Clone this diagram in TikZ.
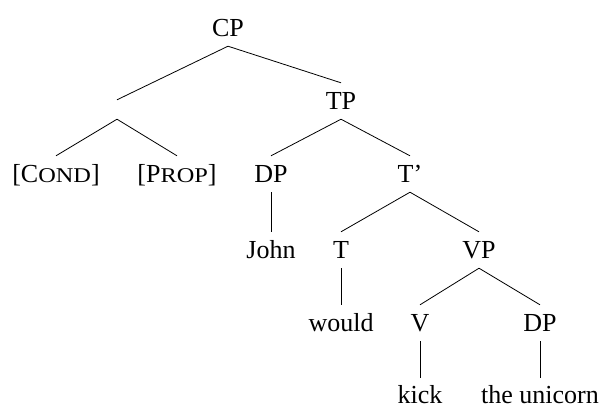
\documentclass[tikz,border=0pt]{standalone}
\usepackage{fontspec}
\setmainfont{Liberation Serif}
\newcommand\fsc[1]{\scalebox{1.16}[1]{\fontsize{21}{21}\selectfont #1}}
\begin{document}
\begin{tikzpicture}[x=1pt,y=-1pt,
  lab/.style={anchor=base, inner sep=0pt, text height=26pt, text depth=10pt,
              font=\fontsize{26}{30}\selectfont},
  leaf/.style={lab, text height=25pt, text depth=1pt},
  edge/.style={line width=0.8pt}]
\useasboundingbox (0,0) rectangle (601,408);
% level 1
\node[lab] (cp) at (228,36) {CP};
% level 2
\node[inner sep=0pt, minimum height=19pt, minimum width=0pt] (e) at (117,109.5) {};
\node[lab] (tp) at (341,109) {TP};
% level 3
\node[lab] (cond) at (56,182) {[C\fsc{OND}]};
\node[lab] (prop) at (177,182) {[P\fsc{ROP}]};
\node[lab] (dp1) at (271,182) {DP};
\node[lab] (tbar) at (410,182) {T’};
% level 4
\node[lab] (john) at (271,258) {John};
\node[lab] (t) at (341,258) {T};
\node[lab] (vp) at (479,258) {VP};
% level 5
\node[lab] (would) at (341,331) {would};
\node[lab] (v) at (420,331) {V};
\node[lab] (dp2) at (540,331) {DP};
% level 6
\node[leaf] (kick) at (420,403) {kick};
\node[leaf] (uni) at (540,403) {the unicorn};
% edges
\draw[edge] (cp.south) -- (e.north);
\draw[edge] (cp.south) -- (tp.north);
\draw[edge] (e.south) -- (cond.north);
\draw[edge] (e.south) -- (prop.north);
\draw[edge] (tp.south) -- (dp1.north);
\draw[edge] (tp.south) -- (tbar.north);
\draw[edge] (dp1.south) -- (john.north);
\draw[edge] (tbar.south) -- (t.north);
\draw[edge] (tbar.south) -- (vp.north);
\draw[edge] (t.south) -- (would.north);
\draw[edge] (vp.south) -- (v.north);
\draw[edge] (vp.south) -- (dp2.north);
\draw[edge] (v.south) -- (kick.north);
\draw[edge] (dp2.south) -- (uni.north);
\end{tikzpicture}
\end{document}
